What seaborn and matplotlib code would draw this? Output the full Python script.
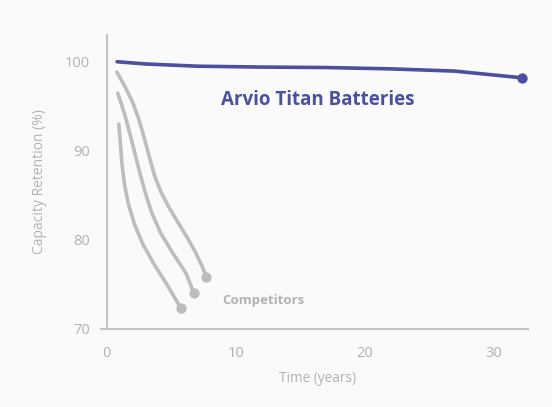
import numpy as np
import pandas as pd
import matplotlib
matplotlib.use("Agg")
import matplotlib.pyplot as plt
import seaborn as sns

# Arvio Titan (years, capacity %)
titan_years = [0.8, 3.0, 7.0, 12.0, 17.0, 22.0, 27.0, 32.2]
titan_capacity = [100.0, 99.75, 99.5, 99.4, 99.35, 99.2, 98.95, 98.2]

# Competitor curves
comp_a_years = [0.78, 1.43, 2.00, 2.43, 2.78, 3.10, 3.41, 3.75, 4.21, 4.82, 5.51, 6.23, 6.88, 7.43, 7.72]
comp_a_capacity = [98.84, 97.16, 95.47, 93.79, 92.10, 90.42, 88.73, 87.04, 85.36, 83.67, 81.99, 80.30, 78.62, 76.93, 75.81]
comp_b_years = [0.85, 1.36, 1.78, 2.18, 2.57, 3.0, 3.5, 4.19, 5.13, 6.15, 6.76]
comp_b_capacity = [96.48, 94.24, 91.99, 89.74, 87.49, 85.25, 83.0, 80.75, 78.51, 76.26, 74.01]
comp_c_years = [0.93, 1.06, 1.18, 1.37, 1.68, 2.15, 2.8, 3.67, 4.66, 5.75]
comp_c_capacity = [93.0, 90.75, 88.5, 86.26, 84.01, 81.76, 79.52, 77.27, 75.02, 72.33]

BLUE = "#4a4fa0"
GRAY = "#bdbdbd"
AXIS = "#c4c4c4"
TEXT = "#b2b2b2"

sns.set_style("white")
plt.rcParams["font.family"] = ["Open Sans", "DejaVu Sans"]

fig = plt.figure(figsize=(5.52, 4.07), dpi=100)
fig.patch.set_facecolor("#fafafb")
ax = fig.add_axes([101 / 552, 78 / 407, 427 / 552, 294 / 407])
ax.set_facecolor("#fafafb")

for yrs, cap in [(comp_a_years, comp_a_capacity),
                 (comp_b_years, comp_b_capacity),
                 (comp_c_years, comp_c_capacity)]:
    df = pd.DataFrame({"t": yrs, "c": cap})
    sns.lineplot(data=df, x="t", y="c", ax=ax, color=GRAY, lw=2.6,
                 solid_capstyle="round", solid_joinstyle="round", sort=False)
    ax.scatter(yrs[-1], cap[-1], s=55, color=GRAY, zorder=3, lw=0)

df_t = pd.DataFrame({"t": titan_years, "c": titan_capacity})
sns.lineplot(data=df_t, x="t", y="c", ax=ax, color=BLUE, lw=2.6,
             solid_capstyle="round", solid_joinstyle="round", sort=False)
ax.scatter(titan_years[-1], titan_capacity[-1], s=55, color=BLUE, zorder=3, lw=0)

ax.text(8.9, 95.7, "Arvio Titan Batteries", color=BLUE, fontsize=13.5,
        fontweight="bold", va="center", ha="left")
ax.text(9.0, 73.2, "Competitors", color=TEXT, fontsize=9.5,
        fontweight="bold", va="center", ha="left")

ax.set_xlim(-0.45, 32.7)
ax.set_ylim(70, 103)
ax.set_xticks([0, 10, 20, 30])
ax.set_yticks([70, 80, 90, 100])
ax.spines["left"].set_position(("data", 0))
for s in ["top", "right"]:
    ax.spines[s].set_visible(False)
for s in ["left", "bottom"]:
    ax.spines[s].set_color(AXIS)
    ax.spines[s].set_linewidth(1.5)
ax.tick_params(axis="both", colors=AXIS, labelcolor=TEXT, length=5,
               width=1.2, labelsize=10.5, direction="out", pad=7)
ax.set_xlabel("Time (years)", color=TEXT, fontsize=9.8)
ax.set_ylabel("Capacity Retention (%)", color=TEXT, fontsize=10)
ax.xaxis.set_label_coords((318 - 101) / 427, -(379 - 329) / 294)
ax.yaxis.set_label_coords((40 - 101) / 427, 0.5)
ax.xaxis.label.set_va("center")
ax.yaxis.label.set_va("center")

fig.savefig("out.png", dpi=100, facecolor=fig.get_facecolor())
